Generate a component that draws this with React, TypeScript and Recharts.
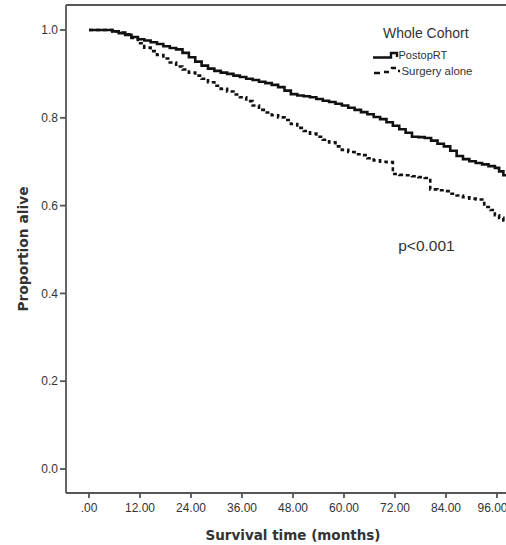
import React from 'react';
import {
  LineChart,
  Line,
  XAxis,
  YAxis,
  ReferenceLine,
  ReferenceDot,
  Legend,
} from 'recharts';

// Kaplan–Meier estimates, months vs. proportion alive
const postopMonths = [
  0, 5.5, 7, 8.5, 10, 11.5, 13, 14.5, 16, 17.5, 19, 20.5, 22, 23.5, 25, 26.5, 28, 29.5, 31, 32.5,
  34, 35.5, 37, 38.5, 40, 41.5, 43, 44.5, 46, 47.5, 49, 50.5, 52, 53.5, 55, 56.5, 58, 59.5, 61,
  62.5, 64, 65.5, 67, 68.5, 70, 71.5, 73, 74.5, 76, 77.5, 79, 80.5, 82, 83.5, 85, 86.5, 88, 89.5,
  91, 92.5, 94, 95.5, 96.5, 97.5, 98.2,
];
const postopSurvival = [
  1.0, 0.997, 0.993, 0.989, 0.984, 0.979, 0.976, 0.972, 0.968, 0.963, 0.959, 0.956, 0.948, 0.938,
  0.928, 0.919, 0.912, 0.907, 0.903, 0.9, 0.896, 0.893, 0.889, 0.886, 0.882, 0.879, 0.875, 0.87,
  0.862, 0.854, 0.851, 0.849, 0.847, 0.843, 0.839, 0.836, 0.832, 0.828, 0.823, 0.818, 0.813,
  0.808, 0.802, 0.797, 0.79, 0.782, 0.774, 0.766, 0.757, 0.756, 0.754, 0.748, 0.741, 0.735, 0.725,
  0.713, 0.706, 0.701, 0.697, 0.694, 0.69, 0.686, 0.678, 0.669, 0.669,
];

const surgeryMonths = [
  0, 5.5, 7, 8.5, 10, 11.5, 13, 14.5, 16, 17.5, 19, 20.5, 22, 23.5, 25, 26.5, 28, 29.5, 31, 32.5,
  34, 35.5, 37, 38.5, 40, 41.5, 43, 44.5, 46, 47.5, 49, 50.5, 52, 53.5, 55, 56.5, 58, 59.5, 61,
  62.5, 64, 65.5, 67, 68.5, 70, 71.5, 73, 74.5, 76, 77.5, 79, 80.3, 82, 83.5, 85, 86.5, 88, 89.5,
  91, 93, 94.5, 95.5, 96.5, 97.5, 98.2,
];
const surgerySurvival = [
  1.0, 0.997, 0.994, 0.99, 0.982, 0.97, 0.96, 0.952, 0.943, 0.935, 0.926, 0.917, 0.91, 0.903,
  0.896, 0.889, 0.881, 0.873, 0.866, 0.86, 0.853, 0.847, 0.838, 0.828, 0.818, 0.812, 0.806, 0.801,
  0.795, 0.786, 0.777, 0.77, 0.764, 0.757, 0.75, 0.744, 0.735, 0.727, 0.722, 0.717, 0.715, 0.708,
  0.703, 0.7, 0.699, 0.672, 0.67, 0.669, 0.667, 0.665, 0.663, 0.637, 0.635, 0.633, 0.627, 0.623,
  0.619, 0.616, 0.614, 0.597, 0.59, 0.578, 0.572, 0.566, 0.566,
];

const xTicks = [0, 12, 24, 36, 48, 60, 72, 84, 96];
const yTicks = [0, 0.2, 0.4, 0.6, 0.8, 1.0];
const seriesNames = ['PostopRT', 'Surgery alone'];
const legendTitle = 'Whole Cohort';
const pValueText = 'p<0.001';
const pValuePos = { month: 79.4, surv: 0.51 };

const X_DOMAIN: [number, number] = [-5.41, 98.12];
const Y_DOMAIN: [number, number] = [-0.0547, 1.057];

const postopData = postopMonths.map((t, i) => ({ t, s: postopSurvival[i] }));
const surgeryData = surgeryMonths.map((t, i) => ({ t, s: surgerySurvival[i] }));

const FONT = '"Liberation Sans", Arial, sans-serif';
const TITLE_FONT = '"DejaVu Sans", Verdana, sans-serif';
const AXIS = '#555';
const TEXT = '#333';

const fmtX = (v: number) => (v === 0 ? '.00' : v.toFixed(2));
const fmtY = (v: number) => v.toFixed(1);

// Legend drawn in a 146x70 box anchored near the top-right corner
const LegendBox = () => (
  <svg width={146} height={70} style={{ display: 'block', overflow: 'visible' }}>
    <text x={23} y={18} fontSize={14} fill={TEXT} fontFamily={FONT}>
      {legendTitle}
    </text>
    <path d="M13,37.5 H31 V33 H37 V37" fill="none" stroke="#111" strokeWidth={2.4} />
    <text x={38.5} y={39} fontSize={11} fill={TEXT} fontFamily={FONT}>
      {seriesNames[0]}
    </text>
    <path
      d="M14,53 H20 M24,52 H29 M32,49 V48 H36 M38,51 H40"
      fill="none"
      stroke="#111"
      strokeWidth={2.4}
    />
    <text x={41.5} y={55} fontSize={11.4} fill={TEXT} fontFamily={FONT}>
      {seriesNames[1]}
    </text>
  </svg>
);

const XTitle = () => (
  <text x={293} y={540} textAnchor="middle" fontSize={13.5} fontWeight="bold" fill={TEXT} fontFamily={TITLE_FONT}>
    Survival time (months)
  </text>
);

const YTitle = () => (
  <text
    x={28}
    y={249}
    transform="rotate(-90 28 249)"
    textAnchor="middle"
    fontSize={13.8}
    fontWeight="bold"
    fill={TEXT}
    fontFamily={TITLE_FONT}
  >
    Proportion alive
  </text>
);

export default function App() {
  return (
    <div style={{ position: 'absolute', left: 0, top: 0, background: '#fff' }}>
      <LineChart
        width={506}
        height={545}
        margin={{ top: 5, right: 0, left: 0, bottom: 0 }}
        style={{ fontFamily: FONT }}
      >
        <XAxis
          dataKey="t"
          type="number"
          domain={X_DOMAIN}
          allowDataOverflow
          ticks={xTicks}
          tickFormatter={fmtX}
          height={52}
          tickSize={5}
          tickMargin={5}
          stroke={AXIS}
          strokeWidth={1.8}
          tick={{ fontSize: 12, fill: TEXT, fontFamily: FONT }}
          label={<XTitle />}
        />
        <YAxis
          type="number"
          domain={Y_DOMAIN}
          allowDataOverflow
          ticks={yTicks}
          tickFormatter={fmtY}
          width={66}
          tickSize={6}
          tickMargin={2}
          stroke={AXIS}
          strokeWidth={1.8}
          tick={{ fontSize: 12, fill: TEXT, fontFamily: FONT }}
          label={<YTitle />}
        />
        <ReferenceLine y={Y_DOMAIN[1]} stroke={AXIS} strokeWidth={1.8} />
        <Line
          data={postopData}
          dataKey="s"
          name={seriesNames[0]}
          type="stepAfter"
          stroke="#111"
          strokeWidth={2.6}
          dot={false}
          isAnimationActive={false}
        />
        <Line
          data={surgeryData}
          dataKey="s"
          name={seriesNames[1]}
          type="stepAfter"
          stroke="#111"
          strokeWidth={2.6}
          strokeDasharray="4 3"
          dot={false}
          isAnimationActive={false}
        />
        <ReferenceDot
          x={pValuePos.month}
          y={pValuePos.surv}
          r={0}
          label={{ value: pValueText, position: 'center', fontSize: 15.5, fill: TEXT, fontFamily: FONT }}
        />
        <Legend
          layout="vertical"
          verticalAlign="middle"
          align="center"
          wrapperStyle={{ top: 20, left: 360, width: 146 }}
          content={<LegendBox />}
        />
      </LineChart>
    </div>
  );
}
